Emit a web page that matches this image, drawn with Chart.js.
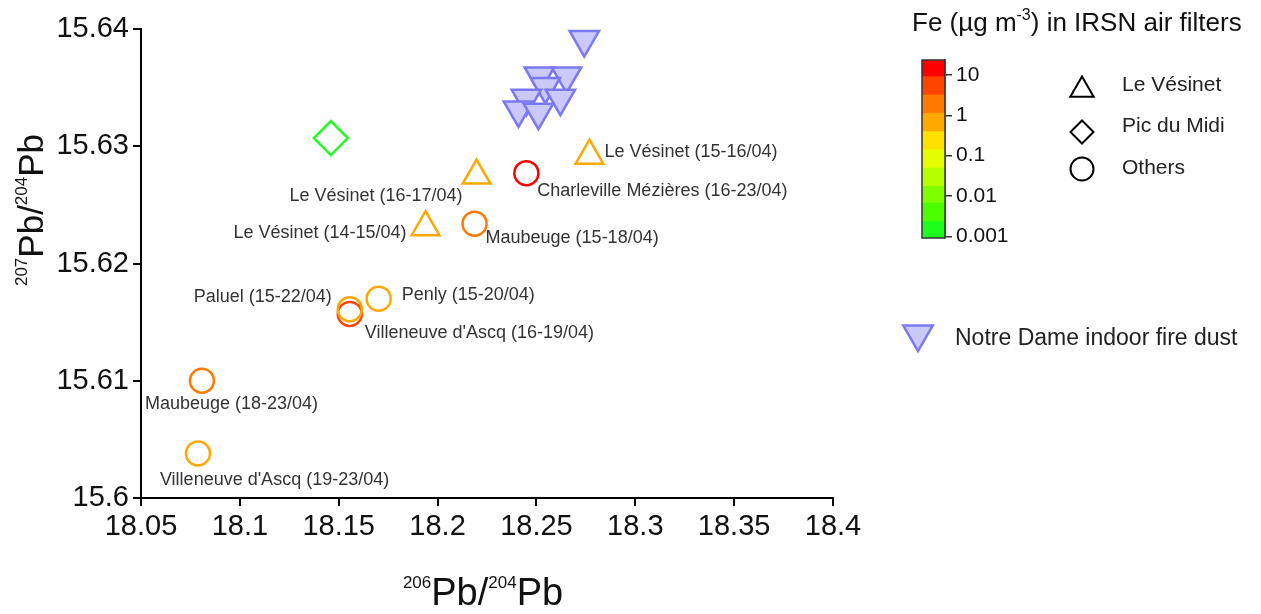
<!DOCTYPE html>
<html><head><meta charset="utf-8">
<script src="https://cdn.jsdelivr.net/npm/chart.js@4/dist/chart.umd.min.js"></script>
<style>
html,body{margin:0;padding:0;background:#fff;overflow:hidden;}
#wrap{position:relative;width:1261px;height:614px;}
#main{position:absolute;left:0;top:0;}
#cb{position:absolute;left:880px;top:40px;}
</style></head><body>
<div id="wrap"><canvas id="main" width="1261" height="614"></canvas><canvas id="cb" width="160" height="220"></canvas></div>
<script>
// ---------- data ----------
const xTickValues = [18.05, 18.1, 18.15, 18.2, 18.25, 18.3, 18.35, 18.4];
const yTickValues = [15.6, 15.61, 15.62, 15.63, 15.64];

// Notre Dame indoor fire dust (206Pb/204Pb, 207Pb/204Pb)
const notreDameX = [18.2742, 18.2515, 18.2652, 18.2545, 18.2449, 18.2621, 18.2409, 18.2510];
const notreDameY = [15.6391, 15.6360, 15.6360, 15.6351, 15.6341, 15.6341, 15.6331, 15.6329];

// IRSN air filters – Le Vésinet
const vesinetNames = ['Le Vésinet (15-16/04)', 'Le Vésinet (16-17/04)', 'Le Vésinet (14-15/04)'];
const vesinetX  = [18.2768, 18.2197, 18.1939];
const vesinetY  = [15.6292, 15.6275, 15.6231];
const vesinetFe = [0.7, 0.7, 0.7];

// Pic du Midi
const picX  = [18.146];
const picY  = [15.6307];
const picFe = [0.002];

// Others
const otherNames = ['Charleville Mézières (16-23/04)', 'Maubeuge (15-18/04)', 'Penly (15-20/04)',
  "Villeneuve d'Ascq (16-19/04)", 'Paluel (15-22/04)', 'Maubeuge (18-23/04)', "Villeneuve d'Ascq (19-23/04)"];
const otherX  = [18.2449, 18.2187, 18.1702, 18.1556, 18.1556, 18.0808, 18.0788];
const otherY  = [15.6277, 15.6234, 15.6170, 15.6157, 15.6161, 15.6100, 15.6038];
const otherFe = [12, 2, 0.6, 5, 0.8, 1.5, 0.5];

// colour bar (Fe, µg m-3), log10 band edges bottom -> top
const feTickValues = [0.001, 0.01, 0.1, 1, 10];
const feBandEdges = [-3.041, -2.629, -2.175, -1.763, -1.309, -0.856, -0.402, 0.052, 0.505, 0.959, 1.371];
const feBandColors = ['#1cff1c', '#4cff00', '#7dff00', '#b4ff00', '#e6ff00', '#ffe000', '#ffa800', '#ff7800', '#ff4400', '#ff0000'];

// ---------- styling ----------
const FONT = '"Liberation Sans", Arial, sans-serif';
const vesinetLabelPos = [[15, -4, 'left'], [-14, 20, 'right'], [-19, 6, 'right']];
const otherLabelPos = [[11, 18, 'left'], [11, 14, 'left'], [23, -4, 'left'], [15, 19, 'left'], [-18, -12, 'right'], [-57, 23, 'left'], [-38, 27, 'left']];

function feColor(fe) {
  const l = Math.log10(fe);
  for (let i = 0; i < feBandColors.length; i++) {
    if (l >= feBandEdges[i] && l < feBandEdges[i + 1]) return feBandColors[i];
  }
  return l < feBandEdges[0] ? feBandColors[0] : feBandColors[feBandColors.length - 1];
}
const pts = (xs, ys) => xs.map((x, i) => ({x: x, y: ys[i]}));
const fmt = v => String(parseFloat(Number(v).toFixed(4)));

function drawParts(ctx, parts, bigSize, supSize, supRise) {
  let total = 0;
  parts.forEach(p => { ctx.font = (p.sup ? supSize : bigSize) + 'px ' + FONT; p.w = ctx.measureText(p.t).width; total += p.w; });
  let x = -total / 2;
  parts.forEach(p => {
    ctx.font = (p.sup ? supSize : bigSize) + 'px ' + FONT;
    ctx.fillText(p.t, x, p.sup ? -supRise : 0);
    x += p.w;
  });
}

const pointLabels = {
  id: 'pointLabels',
  afterDatasetsDraw(chart) {
    const ctx = chart.ctx, xs = chart.scales.x, ys = chart.scales.y;
    ctx.save();
    ctx.font = '18px ' + FONT;
    ctx.fillStyle = '#333';
    ctx.textBaseline = 'middle';
    const put = (names, X, Y, pos) => names.forEach((n, i) => {
      const px = xs.getPixelForValue(X[i]), py = ys.getPixelForValue(Y[i]);
      ctx.textAlign = pos[i][2];
      ctx.fillText(n, px + pos[i][0], py + pos[i][1]);
    });
    put(vesinetNames, vesinetX, vesinetY, vesinetLabelPos);
    put(otherNames, otherX, otherY, otherLabelPos);
    ctx.restore();
  }
};

const decor = {
  id: 'decor',
  afterDraw(chart) {
    const ctx = chart.ctx;
    ctx.save();
    ctx.fillStyle = '#111';
    ctx.textAlign = 'left';
    ctx.textBaseline = 'alphabetic';
    // x title
    ctx.save();
    ctx.translate(483, 605);
    drawParts(ctx, [{t: '206', sup: true}, {t: 'Pb/'}, {t: '204', sup: true}, {t: 'Pb'}], 38, 17, 17);
    ctx.restore();
    // y title
    ctx.save();
    ctx.translate(43, 210);
    ctx.rotate(-Math.PI / 2);
    drawParts(ctx, [{t: '207', sup: true}, {t: 'Pb/'}, {t: '204', sup: true}, {t: 'Pb'}], 35, 17, 16);
    ctx.restore();
    // legend title
    ctx.save();
    ctx.translate(912, 31);
    const tparts = [{t: 'Fe (µg m'}, {t: '-3', sup: true}, {t: ') in IRSN air filters'}];
    let x = 0;
    tparts.forEach(p => {
      ctx.font = (p.sup ? 16 : 26) + 'px ' + FONT;
      ctx.fillText(p.t, x, p.sup ? -11 : 0);
      x += ctx.measureText(p.t).width;
    });
    ctx.restore();
    // shape legend
    const H = Chart.helpers;
    ctx.strokeStyle = '#000';
    ctx.lineWidth = 2;
    ctx.fillStyle = 'rgba(0,0,0,0)';
    H.drawPoint(ctx, {pointStyle: 'triangle', radius: 13.5, rotation: 0, borderWidth: 2}, 1082, 90);
    H.drawPoint(ctx, {pointStyle: 'rectRot', radius: 11.5, rotation: 0, borderWidth: 2}, 1082, 132);
    H.drawPoint(ctx, {pointStyle: 'circle', radius: 11.5, rotation: 0, borderWidth: 2}, 1082, 169);
    ctx.fillStyle = '#222';
    ctx.font = '21px ' + FONT;
    ctx.textBaseline = 'middle';
    ctx.fillText('Le Vésinet', 1122, 85);
    ctx.fillText('Pic du Midi', 1122, 126);
    ctx.fillText('Others', 1122, 168);
    // Notre Dame legend
    ctx.fillStyle = '#c9c9fb';
    ctx.strokeStyle = '#7b79f2';
    ctx.lineWidth = 2.5;
    H.drawPoint(ctx, {pointStyle: 'triangle', radius: 17, rotation: 180, borderWidth: 2.5}, 918, 334);
    ctx.fillStyle = '#222';
    ctx.font = '23px ' + FONT;
    ctx.fillText('Notre Dame indoor fire dust', 955, 339);
    ctx.restore();
  }
};

const tickFont = {family: FONT, size: 29};
new Chart(document.getElementById('main'), {
  type: 'scatter',
  data: {
    datasets: [
      {label: 'Notre Dame indoor fire dust', data: pts(notreDameX, notreDameY), pointStyle: 'triangle', pointRotation: 180,
        pointRadius: 17, pointBackgroundColor: '#c9c9fb', pointBorderColor: '#7b79f2', pointBorderWidth: 2.5, clip: false},
      {label: 'Le Vésinet', data: pts(vesinetX, vesinetY), pointStyle: 'triangle', pointRadius: 16,
        pointBackgroundColor: 'rgba(0,0,0,0)', pointBorderColor: vesinetFe.map(feColor), pointBorderWidth: 2.5, clip: false},
      {label: 'Pic du Midi', data: pts(picX, picY), pointStyle: 'rectRot', pointRadius: 17,
        pointBackgroundColor: 'rgba(0,0,0,0)', pointBorderColor: picFe.map(feColor), pointBorderWidth: 2.5, clip: false},
      {label: 'Others', data: pts(otherX, otherY), pointStyle: 'circle', pointRadius: 12,
        pointBackgroundColor: 'rgba(0,0,0,0)', pointBorderColor: otherFe.map(feColor), pointBorderWidth: 2.5, clip: false}
    ]
  },
  options: {
    responsive: false, animation: false, events: [],
    layout: {padding: {left: 0, top: 29, right: 428, bottom: 0}},
    plugins: {legend: {display: false}, tooltip: {enabled: false}},
    scales: {
      x: {
        type: 'linear', min: xTickValues[0], max: xTickValues[xTickValues.length - 1],
        afterBuildTicks: s => { s.ticks = xTickValues.map(v => ({value: v})); },
        afterFit: s => { s.height = 116; },
        ticks: {callback: v => fmt(v), font: tickFont, color: '#111', padding: 4, maxRotation: 0, autoSkip: false},
        grid: {drawOnChartArea: false, drawTicks: true, tickLength: 8, color: '#000', lineWidth: 2},
        border: {display: true, color: '#000', width: 2}
      },
      y: {
        type: 'linear', min: yTickValues[0], max: yTickValues[yTickValues.length - 1],
        afterBuildTicks: s => { s.ticks = yTickValues.map(v => ({value: v})); },
        afterFit: s => { s.width = 141; },
        ticks: {callback: v => fmt(v), font: tickFont, color: '#111', padding: 4, autoSkip: false},
        grid: {drawOnChartArea: false, drawTicks: true, tickLength: 8, color: '#000', lineWidth: 2},
        border: {display: true, color: '#000', width: 2}
      }
    }
  },
  plugins: [pointLabels, decor]
});

// colour bar
const cbOutline = {
  id: 'cbOutline',
  afterDraw(chart) {
    const a = chart.chartArea, ctx = chart.ctx;
    ctx.save(); ctx.strokeStyle = '#333'; ctx.lineWidth = 1.5;
    ctx.strokeRect(a.left, a.top, a.right - a.left, a.bottom - a.top);
    ctx.restore();
  }
};
new Chart(document.getElementById('cb'), {
  type: 'bar',
  data: {
    labels: [''],
    datasets: feBandColors.map((c, i) => ({
      data: [[feBandEdges[i], feBandEdges[i + 1]]], backgroundColor: c, borderWidth: 0,
      grouped: false, barPercentage: 1, categoryPercentage: 1
    }))
  },
  options: {
    responsive: false, animation: false, events: [],
    layout: {padding: {left: 42, top: 20, bottom: 22, right: 0}},
    plugins: {legend: {display: false}, tooltip: {enabled: false}},
    scales: {
      x: {display: false},
      y: {
        position: 'right', min: feBandEdges[0], max: feBandEdges[feBandEdges.length - 1],
        afterBuildTicks: s => { s.ticks = feTickValues.map(v => ({value: Math.log10(v)})); },
        afterFit: s => { s.width = 95; },
        ticks: {callback: (v, i) => String(feTickValues[i]), font: {family: FONT, size: 21}, color: '#111', padding: 4, autoSkip: false},
        grid: {drawOnChartArea: false, drawTicks: true, tickLength: 7, color: '#333', lineWidth: 1.5},
        border: {display: true, color: '#333', width: 1.5}
      }
    }
  },
  plugins: [cbOutline]
});
</script>
</body></html>
